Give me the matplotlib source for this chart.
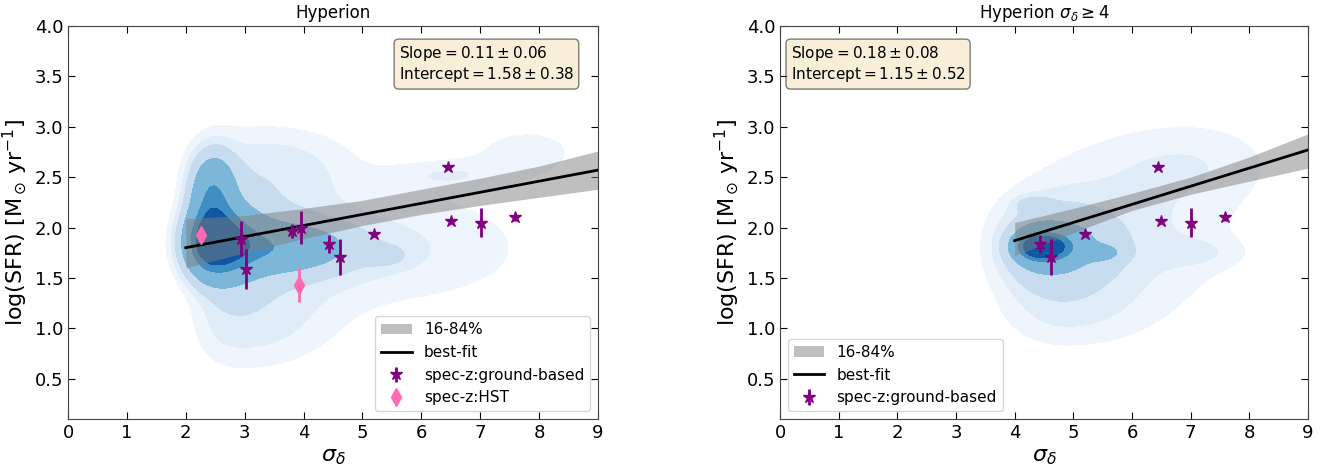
import numpy as np
import matplotlib
matplotlib.use('Agg')
import matplotlib.pyplot as plt

# 光谱红移样本 (ground-based)
gb_sigma = [2.93, 3.03, 3.81, 3.95, 4.44, 4.62, 5.20, 6.45, 6.50, 7.01, 7.59]
gb_sfr = [1.89, 1.59, 1.97, 2.00, 1.84, 1.71, 1.94, 2.60, 2.06, 2.05, 2.10]
gb_err = [0.17, 0.20, 0.07, 0.16, 0.09, 0.18, 0.03, 0.02, 0.02, 0.14, 0.04]

# HST 样本
hst_sigma = [2.25, 3.93]
hst_sfr = [1.93, 1.43]
hst_err = [0.05, 0.17]

# 拟合参数
fit_all = dict(slope=0.11, slope_err=0.06, icpt=1.58, icpt_err=0.38)
fit_hi = dict(slope=0.18, slope_err=0.08, icpt=1.15, icpt_err=0.52)

# 16-84% 区间
band_x_all = [2, 3, 4, 5, 6, 7, 8, 9]
band_lo_all = [1.60, 1.75, 1.89, 2.02, 2.13, 2.22, 2.30, 2.38]
band_hi_all = [2.09, 2.12, 2.19, 2.27, 2.38, 2.49, 2.61, 2.76]
band_x_hi = [4, 5, 6, 7, 8, 9]
band_lo_hi = [1.72, 1.95, 2.17, 2.33, 2.46, 2.59]
band_hi_hi = [2.05, 2.19, 2.34, 2.50, 2.70, 2.93]

# 密度分布的高斯成分: (x, y, 左sx, 右sx, sy, 权重)
kde_all = [
    (2.45, 1.85, 0.30, 0.45, 0.22, 1.00),
    (2.45, 2.35, 0.25, 0.25, 0.25, 0.45),
    (3.60, 1.80, 0.60, 0.80, 0.16, 0.35),
    (2.70, 1.85, 0.35, 1.30, 0.55, 0.16),
    (5.80, 1.80, 1.50, 1.50, 0.40, 0.07),
    (7.80, 2.75, 0.80, 0.80, 0.22, 0.05),
    (6.40, 2.52, 0.70, 0.70, 0.10, 0.06),
    (5.40, 1.72, 0.25, 0.25, 0.07, 0.08),
    (3.60, 2.65, 0.90, 0.90, 0.25, 0.06),
    (3.00, 1.00, 0.60, 1.00, 0.30, 0.06),
]
kde_hi = [
    (4.42, 1.81, 0.25, 0.35, 0.09, 1.00),
    (4.50, 1.80, 0.45, 0.70, 0.25, 0.30),
    (5.20, 1.85, 1.00, 1.60, 0.50, 0.12),
    (5.50, 1.75, 0.20, 0.20, 0.05, 0.20),
    (7.00, 2.65, 1.20, 1.00, 0.30, 0.07),
    (4.32, 2.23, 0.20, 0.20, 0.05, 0.12),
    (7.10, 1.75, 0.50, 0.50, 0.10, 0.05),
    (4.80, 1.15, 0.70, 1.00, 0.25, 0.06),
]

# 等值线颜色与层级
kde_colors = ['#eff5fc', '#e0ecf7', '#c8dcef', '#7cb7da', '#3e8ec4', '#0d57a3']
kde_levels = [0.03, 0.06, 0.10, 0.20, 0.45, 0.62, 1.01]

plt.rcParams['font.family'] = 'DejaVu Sans'
plt.rcParams['mathtext.fontset'] = 'dejavusans'


def density(comps, X, Y):
    Z = np.zeros_like(X)
    for cx, cy, sxl, sxr, sy, w in comps:
        sx = np.where(X < cx, sxl, sxr)
        Z += w * np.exp(-0.5 * (((X - cx) / sx) ** 2 + ((Y - cy) / sy) ** 2))
    return Z


def draw_panel(ax, comps, fit, bx, blo, bhi, sel, show_hst, title, box_x, box_ha, leg_loc):
    gx = np.linspace(0, 9, 450)
    gy = np.linspace(0, 4, 300)
    X, Y = np.meshgrid(gx, gy)
    Z = density(comps, X, Y)
    Z = Z / Z.max()
    ax.contourf(X, Y, Z, levels=kde_levels, colors=kde_colors, zorder=1)

    ax.fill_between(bx, blo, bhi, color='grey', alpha=0.5, lw=0, label='16-84%', zorder=2)
    xx = np.array([bx[0], bx[-1]])
    ax.plot(xx, fit['icpt'] + fit['slope'] * xx, color='k', lw=2, label='best-fit', zorder=3)

    gs = np.array(gb_sigma)
    m = gs >= sel
    ax.errorbar(gs[m], np.array(gb_sfr)[m], yerr=np.array(gb_err)[m], fmt='*', color='purple',
                ms=9, elinewidth=2, capsize=0, label='spec-z:ground-based', zorder=4)
    if show_hst:
        ax.errorbar(hst_sigma, hst_sfr, yerr=hst_err, fmt='d', color='hotpink',
                    ms=9, elinewidth=2, capsize=0, label='spec-z:HST', zorder=4)

    txt = (r'$\mathrm{Slope} = %.2f \pm %.2f$' % (fit['slope'], fit['slope_err']) + '\n' +
           r'$\mathrm{Intercept} = %.2f \pm %.2f$' % (fit['icpt'], fit['icpt_err']))
    ax.text(box_x, 0.955, txt, transform=ax.transAxes, ha=box_ha, va='top', fontsize=11,
            multialignment='left',
            bbox=dict(boxstyle='round', facecolor='wheat', alpha=0.5), zorder=5)

    ax.set_xlim(0, 9)
    ax.set_ylim(0.1, 4.0)
    ax.set_xticks(range(10))
    ax.set_yticks([0.5, 1.0, 1.5, 2.0, 2.5, 3.0, 3.5, 4.0])
    ax.tick_params(direction='in', top=True, right=True, labelsize=13, length=5)
    for s in ax.spines.values():
        s.set_color('#444444')
    ax.set_title(title, fontsize=12)
    ax.set_xlabel(r'$\sigma_\delta$', fontsize=16)
    ax.set_ylabel(r'log(SFR) [$\mathrm{M_\odot\,yr^{-1}}$]', fontsize=16)
    ax.legend(loc=leg_loc, fontsize=11)


fig = plt.figure(figsize=(13.31, 4.73), dpi=100)
ax1 = fig.add_axes([68 / 1331, 1 - 419 / 473, 530 / 1331, 393 / 473])
ax2 = fig.add_axes([780 / 1331, 1 - 419 / 473, 528 / 1331, 393 / 473])

draw_panel(ax1, kde_all, fit_all, band_x_all, band_lo_all, band_hi_all, 0, True,
           'Hyperion', 0.955, 'right', 'lower right')
draw_panel(ax2, kde_hi, fit_hi, band_x_hi, band_lo_hi, band_hi_hi, 4, False,
           r'Hyperion $\sigma_\delta \geq 4$', 0.02, 'left', 'lower left')

plt.savefig('out.png', dpi=100)
